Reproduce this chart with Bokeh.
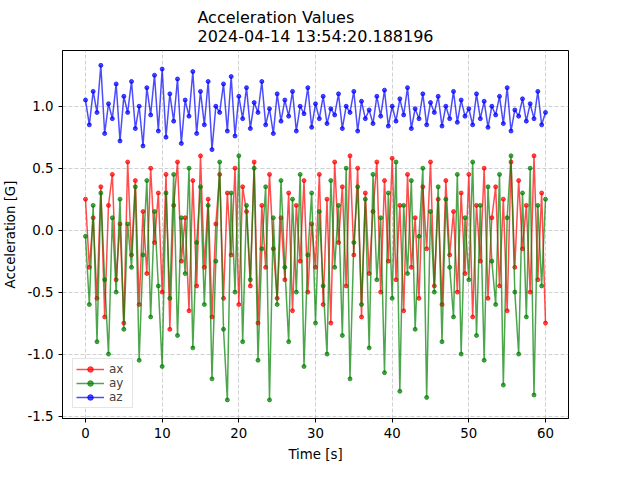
from bokeh.plotting import figure
from bokeh.models import Range1d, FixedTicker, NumeralTickFormatter
from bokeh.embed import file_html
from bokeh.resources import INLINE

# sample times, 0.5 s apart
time = [i * 0.5 for i in range(121)]

ax = [0.25, -0.3, 0.1, -0.55, 0.35, -0.7, 0.2, 0.45, -0.4, 0.05, -0.75, 0.55, -0.2, 0.4, -0.6, 0.15, -0.35, 0.5, -0.1, 0.3,
      -0.5, 0.45, -0.8, 0.2, 0.55, -0.25, 0.1, -0.65, 0.4, -0.45, 0.6, -0.3, 0.25, -0.7, 0.05, 0.45, -0.55, 0.3, -0.2, 0.5,
      -0.6, 0.35, 0.15, -0.45, 0.55, -0.75, 0.2, -0.3, 0.45, -0.15, -0.55, 0.1, -0.4, 0.3, -0.65, 0.2, -0.25, 0.4, -0.5, 0.05,
      -0.3, 0.45, -0.6, 0.25, -0.75, 0.55, -0.1, 0.35, -0.45, 0.6, -0.2, 0.5, -0.7, 0.3, -0.35, 0.15, 0.55, -0.5, 0.4, -0.25,
      0.58, -0.4, 0.2, -0.65, 0.45, -0.3, 0.1, -0.55, 0.35, -0.15, 0.55, -0.45, 0.25, -0.6, 0.4, -0.2, 0.15, -0.5, 0.3, -0.35,
      0.45, -0.7, 0.2, -0.25, 0.5, -0.55, 0.1, 0.35, -0.45, 0.25, -0.65, 0.55, -0.3, 0.4, -0.15, 0.2, -0.5, 0.6, -0.4, 0.3, -0.75]

ay = [-0.05, -0.6, 0.2, -0.9, 0.3, -0.4, -1.0, 0.1, -0.5, 0.25, -0.8, 0.05, -0.3, 0.35, -1.05, -0.2, 0.4, -0.7, 0.15, -0.45,
      -1.1, 0.3, -0.55, 0.45, -0.85, 0.1, -0.35, 0.5, -0.95, -0.1, 0.35, -0.6, 0.2, -1.2, -0.25, 0.55, -0.8, -1.37, 0.3, -0.5,
      0.6, -0.9, 0.2, -0.4, 0.5, -1.05, -0.15, 0.35, -1.37, 0.1, -0.6, 0.4, -0.3, -0.9, 0.25, -0.5, 0.45, -1.1, -0.2, 0.3,
      -0.75, 0.15, -0.45, -1.0, 0.4, -0.3, 0.2, -0.85, 0.5, -1.2, -0.1, 0.35, -0.6, 0.25, -0.95, 0.45, -0.4, 0.1, -1.15, 0.3,
      -0.55, 0.55, -1.3, 0.2, -0.35, 0.4, -0.8, -0.05, 0.5, -1.35, 0.15, -0.5, 0.35, -0.9, 0.25, -0.3, -0.7, 0.45, -1.0, 0.1,
      -0.4, 0.55, -0.85, 0.2, -1.05, 0.35, -0.25, -0.6, 0.45, -1.25, 0.1, 0.6, -0.5, -1.0, 0.3, -0.7, 0.5, -1.33, 0.2, -0.45, 0.25]

az = [1.05, 0.85, 1.12, 0.95, 1.33, 0.78, 1.02, 0.9, 1.18, 0.72, 1.08, 0.95, 1.2, 0.82, 1.0, 0.68, 1.15, 0.93, 1.25, 0.8,
      1.3, 0.75, 1.1, 0.88, 1.22, 0.7, 1.05, 0.92, 1.28, 0.78, 1.12, 0.85, 1.2, 0.65, 1.0, 0.95, 1.18, 0.8, 1.24, 0.76,
      1.08, 0.9, 1.15, 0.82, 1.03, 0.95, 1.2, 0.85, 0.98, 0.78, 1.1, 0.88, 1.05, 0.92, 1.12, 0.8, 1.0, 0.94, 1.15, 0.83,
      1.02, 0.9, 1.08, 0.86, 0.98, 0.93, 1.1, 0.82, 1.0, 0.95, 1.12, 0.8, 1.04, 0.9, 0.97, 0.86, 1.08, 0.92, 1.13, 0.84,
      1.0, 0.88, 1.06, 0.93, 1.15, 0.82, 0.98, 0.9, 1.1, 0.85, 1.03, 0.95, 1.08, 0.84, 1.0, 0.9, 1.12, 0.87, 1.05, 0.92,
      0.98, 0.85, 1.1, 0.9, 1.04, 0.83, 1.0, 0.93, 1.08, 0.86, 1.15, 0.8, 0.97, 0.92, 1.06, 0.88, 1.02, 0.9, 1.12, 0.85, 0.95]

series = [("ax", ax, "red"), ("ay", ay, "green"), ("az", az, "blue")]

p = figure(width=624, height=464, output_backend="svg", toolbar_location=None,
           title="Acceleration Values\n2024-04-14 13:54:20.188196",
           x_range=Range1d(-3, 63), y_range=Range1d(-1.52, 1.45),
           min_border_left=50, min_border_right=56, min_border_top=10, min_border_bottom=44)

p.title.align = "center"
p.title.text_font = "DejaVu Sans"
p.title.text_font_size = "12pt"
p.title.text_font_style = "normal"
p.title.text_color = "black"

for name, vals, col in series:
    p.line(time, vals, color=col, line_width=1.5, line_alpha=0.7, legend_label=name)
    p.scatter(time, vals, color=col, size=4, alpha=0.7, legend_label=name)

p.xaxis.ticker = FixedTicker(ticks=[0, 10, 20, 30, 40, 50, 60])
p.yaxis.ticker = FixedTicker(ticks=[-1.5, -1.0, -0.5, 0.0, 0.5, 1.0])
p.yaxis.formatter = NumeralTickFormatter(format="0.0")
p.xaxis.axis_label = "Time [s]"
p.yaxis.axis_label = "Acceleration [G]"
for a in (p.xaxis[0], p.yaxis[0]):
    a.axis_label_text_font = "DejaVu Sans"
    a.axis_label_text_font_size = "10pt"
    a.axis_label_text_font_style = "normal"
    a.axis_label_text_color = "black"
    a.major_label_text_font = "DejaVu Sans"
    a.major_label_text_font_size = "10pt"
    a.major_label_text_color = "black"
    a.minor_tick_line_color = None
    a.major_tick_in = 0
    a.major_tick_out = 4
    a.axis_label_standoff = 6

p.grid.grid_line_dash = "4 2"
p.grid.grid_line_color = "#b0b0b0"
p.grid.grid_line_width = 0.6
p.outline_line_color = "black"

p.legend.location = "bottom_left"
p.legend.label_text_font = "DejaVu Sans"
p.legend.label_text_font_size = "9pt"
p.legend.border_line_color = "#cccccc"
p.legend.spacing = 0
p.legend.padding = 3
p.legend.label_height = 14
p.legend.glyph_height = 14
p.legend.glyph_width = 28

open("out.html", "w").write(file_html(p, INLINE))
